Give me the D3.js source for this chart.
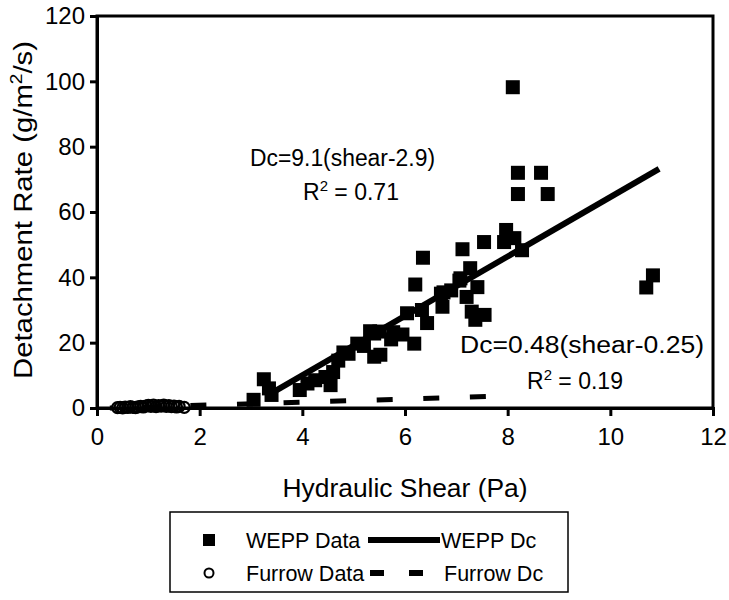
<!DOCTYPE html>
<html><head><meta charset="utf-8">
<script src="https://cdn.jsdelivr.net/npm/d3@7"></script>
<style>body{margin:0;background:#fff}svg{display:block}</style>
</head><body><svg id="c" width="729" height="600"></svg>
<script>
// ---- data ----
const xTicks = [0, 2, 4, 6, 8, 10, 12];
const yTicks = [0, 20, 40, 60, 80, 100, 120];

const weppShear = [3.05,3.25,3.35,3.4,3.95,4.1,4.25,4.45,4.55,4.6,4.7,4.8,4.9,5.07,5.2,5.32,5.4,5.5,5.4,5.52,5.73,5.77,5.95,6.04,6.18,6.2,6.35,6.33,6.43,6.7,6.73,6.75,6.9,7.06,7.08,7.12,7.2,7.27,7.3,7.41,7.37,7.55,7.54,7.93,7.97,8.13,8.28,8.1,8.2,8.65,8.2,8.78,10.7,10.83];
const weppRate  = [2.5,8.8,6.0,4.0,5.5,7.5,8.5,9.5,7.0,11,14.5,17,16.6,19.7,19,23.5,22.8,23.4,15.7,16.3,21,23.2,22.5,29,19.7,37.8,46,30,26,35,31,35.4,36,39,39.7,48.6,34,42.8,29.5,37,27,28.5,50.8,50.8,54.5,52,48.3,98.2,72,72,65.5,65.5,36.9,40.6];

const furrowShear = [0.4,0.45,0.5,0.55,0.6,0.65,0.7,0.75,0.8,0.85,0.9,0.95,1.0,1.05,1.1,1.15,1.2,1.25,1.3,1.35,1.4,1.45,1.5,1.55,1.6,1.7];
const furrowRate  = [0.1,0.2,0.05,0.3,0.15,0.4,0.2,0.1,0.35,0.5,0.3,0.6,0.8,0.5,0.9,0.4,0.7,0.6,0.9,0.5,0.7,0.4,0.6,0.3,0.5,0.2];

const weppLineShear = [3.4, 10.95];
const weppLineRate  = [4.55, 73.2];
const furrowLineShear = [0.25, 7.58];
const furrowLineRate  = [0.0, 3.5];

const xTitle = "Hydraulic Shear (Pa)";
const legendLabels = ["WEPP Data", "WEPP Dc", "Furrow Data", "Furrow Dc"];

// ---- layout ----
const m = {left: 97, right: 713, top: 16, bottom: 408};
const FONT = "Liberation Sans, Arial, sans-serif";
const FS = 23;

const svg = d3.select("#c");
const x = d3.scaleLinear().domain([0, 12]).range([m.left, m.right]);
const y = d3.scaleLinear().domain([0, 120]).range([m.bottom, m.top]);

// frame
svg.append("rect").attr("x", m.left).attr("y", m.top)
  .attr("width", m.right - m.left).attr("height", m.bottom - m.top)
  .attr("fill", "none").attr("stroke", "#000").attr("stroke-width", 3);

// axes
const gx = svg.append("g").attr("transform", `translate(0,${m.bottom})`)
  .call(d3.axisBottom(x).tickValues(xTicks).tickSize(8).tickPadding(12).tickFormat(d3.format("d")));
const gy = svg.append("g").attr("transform", `translate(${m.left},0)`)
  .call(d3.axisLeft(y).tickValues(yTicks).tickSize(7).tickPadding(5).tickFormat(d3.format("d")));
[gx, gy].forEach(g => {
  g.select(".domain").attr("stroke", "#000").attr("stroke-width", 3);
  g.selectAll(".tick line").attr("stroke", "#000").attr("stroke-width", 3);
  g.selectAll(".tick text").attr("font-family", FONT).attr("font-size", 24).attr("fill", "#000");
});

// axis titles
svg.append("text").attr("x", (m.left + m.right) / 2).attr("y", 497)
  .attr("text-anchor", "middle").attr("font-family", FONT).attr("font-size", 25)
  .attr("textLength", 245).attr("lengthAdjust", "spacingAndGlyphs")
  .text(xTitle);
const yt = svg.append("text")
  .attr("transform", `translate(32,210) rotate(-90)`)
  .attr("text-anchor", "middle").attr("font-family", FONT).attr("font-size", 26)
  .attr("textLength", 338).attr("lengthAdjust", "spacingAndGlyphs");
yt.append("tspan").text("Detachment Rate (g/m");
yt.append("tspan").attr("font-size", 26 * 0.65).attr("dy", -10).text("2");
yt.append("tspan").attr("dy", 10).text("/s)");

// furrow regression (dashed)
const line = d3.line().x(d => x(d[0])).y(d => y(d[1]));
svg.append("path").datum(d3.zip(furrowLineShear, furrowLineRate))
  .attr("d", line).attr("fill", "none").attr("stroke", "#000")
  .attr("stroke-width", 5).attr("stroke-dasharray", "16,30.6").attr("stroke-dashoffset", 12.6);

// WEPP data squares
const S = 14;
svg.append("g").selectAll("rect").data(d3.zip(weppShear, weppRate)).join("rect")
  .attr("x", d => x(d[0]) - S / 2).attr("y", d => y(d[1]) - S / 2)
  .attr("width", S).attr("height", S).attr("fill", "#000");

// furrow data circles
svg.append("g").selectAll("circle").data(d3.zip(furrowShear, furrowRate)).join("circle")
  .attr("cx", d => x(d[0])).attr("cy", d => y(d[1])).attr("r", 5.5)
  .attr("fill", "none").attr("stroke", "#000").attr("stroke-width", 2.2);

// WEPP regression (solid)
svg.append("path").datum(d3.zip(weppLineShear, weppLineRate))
  .attr("d", line).attr("fill", "none").attr("stroke", "#000").attr("stroke-width", 6);

// equations
function eqLine(xs, yb, txt, len) {
  const t = svg.append("text").attr("x", xs).attr("y", yb)
    .attr("font-family", FONT).attr("font-size", FS).text(txt);
  if (len) t.attr("textLength", len).attr("lengthAdjust", "spacingAndGlyphs");
}
function r2Line(xc, yb, val) {
  const t = svg.append("text").attr("x", xc).attr("y", yb).attr("text-anchor", "middle")
    .attr("font-family", FONT).attr("font-size", FS);
  t.append("tspan").text("R");
  t.append("tspan").attr("font-size", FS * 0.65).attr("dy", -9).text("2");
  t.append("tspan").attr("dy", 9).text(" = " + val);
}
eqLine(250, 166, "Dc=9.1(shear-2.9)", 185);
r2Line(351, 200, "0.71");
eqLine(460, 353, "Dc=0.48(shear-0.25)", 244);
r2Line(575, 389, "0.19");

// legend
const L = {x: 170, y: 512, w: 398, h: 80, r1: 540, r2: 573};
const LFS = 21.5;
svg.append("rect").attr("x", L.x).attr("y", L.y).attr("width", L.w).attr("height", L.h)
  .attr("fill", "#fff").attr("stroke", "#000").attr("stroke-width", 1.5);
svg.append("rect").attr("x", 203).attr("y", L.r1 - 6).attr("width", 12).attr("height", 12).attr("fill", "#000");
svg.append("circle").attr("cx", 209).attr("cy", L.r2).attr("r", 4.5).attr("fill", "none").attr("stroke", "#000").attr("stroke-width", 2);
svg.append("line").attr("x1", 368).attr("x2", 440).attr("y1", L.r1).attr("y2", L.r1)
  .attr("stroke", "#000").attr("stroke-width", 6);
svg.append("line").attr("x1", 370).attr("x2", 424).attr("y1", L.r2).attr("y2", L.r2)
  .attr("stroke", "#000").attr("stroke-width", 6).attr("stroke-dasharray", "14,25");
const lt = [[246, L.r1, 0], [441, L.r1, 1], [246, L.r2, 2], [444, L.r2, 3]];
svg.append("g").selectAll("text").data(lt).join("text")
  .attr("x", d => d[0]).attr("y", d => d[1] + 8)
  .attr("font-family", FONT).attr("font-size", LFS)
  .text(d => legendLabels[d[2]]);
</script></body></html>
